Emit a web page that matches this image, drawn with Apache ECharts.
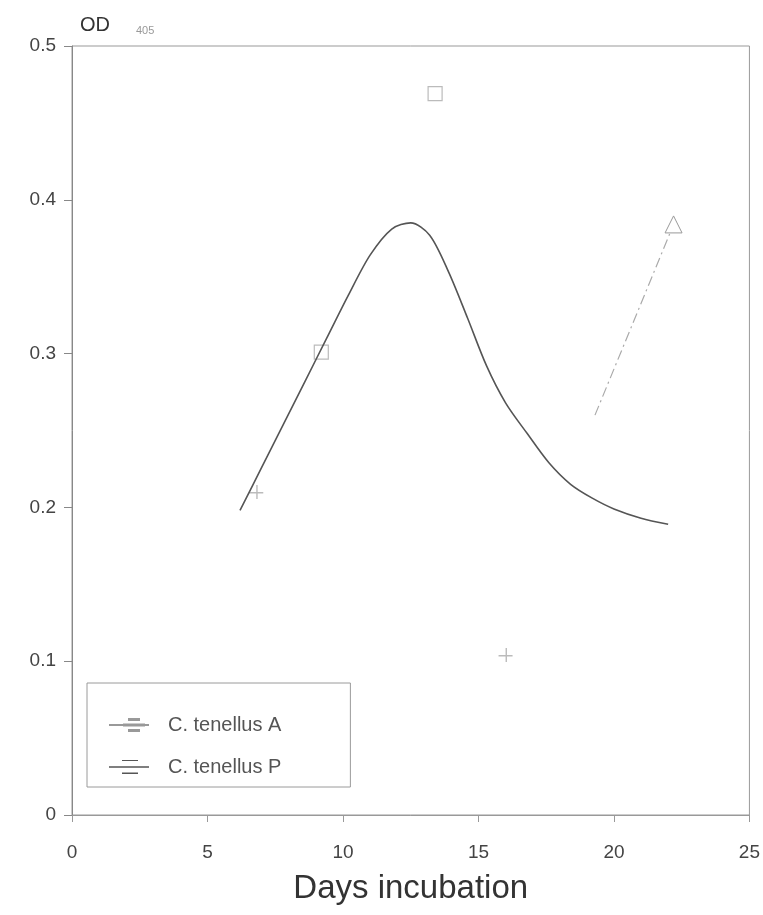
<!DOCTYPE html>
<html>
<head>
<meta charset="utf-8">
<script src="https://cdn.jsdelivr.net/npm/echarts@6/dist/echarts.min.js"></script>
<style>
  html, body { margin: 0; padding: 0; background: #fff; }
  #main { width: 763px; height: 915px; }
</style>
</head>
<body>
<div id="main"></div>
<script>
// fitted curve, C. tenellus P
const curveDays = [6.2, 7.0, 7.8, 8.6, 9.4, 10.2, 11.0, 11.8, 12.5, 13.2, 13.9, 14.6, 15.3, 16.0, 16.8, 17.6, 18.4, 19.2, 20.0, 21.0, 22.0];
const curveOD = [0.198, 0.226, 0.254, 0.282, 0.310, 0.338, 0.364, 0.381, 0.385, 0.377, 0.353, 0.323, 0.292, 0.268, 0.248, 0.229, 0.215, 0.206, 0.199, 0.193, 0.189];

// C. tenellus A (dashed)
const aDays = [19.3, 22.2];
const aOD = [0.26, 0.384];

const squareDays = [9.2, 13.4];
const squareOD = [0.301, 0.469];

const plusDays = [6.8, 16.0];
const plusOD = [0.21, 0.104];

const xTicks = [0, 5, 10, 15, 20, 25];
const yTicks = [0, 0.1, 0.2, 0.3, 0.4, 0.5];

const pairs = (xs, ys) => xs.map((x, i) => [x, ys[i]]);

var chartDom = document.getElementById("main");
var myChart = echarts.init(chartDom);

const font = "Liberation Sans, Arial, sans-serif";

var option = {
  animation: false,
  grid: {
    left: 72,
    right: 13,
    top: 46,
    bottom: 100,
    show: true,
    borderColor: "#999",
    borderWidth: 1,
  },
  legend: {
    orient: "vertical",
    left: 87,
    top: 683,
    padding: [32, 69, 10, 21],
    itemGap: 22,
    itemWidth: 40,
    itemHeight: 14,
    borderColor: "#9a9a9a",
    borderWidth: 1,
    textStyle: {
      fontFamily: font,
      fontSize: 20,
      color: "#555",
      padding: [0, 0, 0, 14],
    },
    data: [
      {
        name: "C. tenellus A",
        icon: "path://M0,7H40V7H0Z M15,6.5H35V7.5H15Z M20,1H30V2H20Z M20,12H30V13H20Z",
        itemStyle: { color: "#aaa" },
      },
      {
        name: "C. tenellus P",
        icon: "path://M0,6.3H40V7.7H0Z M13,0H29V1H13Z M13,12.5H29V14H13Z",
        itemStyle: { color: "#555" },
      },
    ],
  },
  xAxis: {
    type: "value",
    min: xTicks[0],
    max: xTicks[xTicks.length - 1],
    interval: 5,
    name: "Days incubation",
    nameLocation: "middle",
    nameGap: 57,
    nameTextStyle: { fontFamily: font, fontSize: 33, color: "#333" },
    axisLine: { lineStyle: { color: "#999" } },
    axisTick: { length: 7, lineStyle: { color: "#999" } },
    axisLabel: { fontFamily: font, fontSize: 19, color: "#444", margin: 28 },
    splitLine: { show: false },
  },
  yAxis: {
    type: "value",
    min: yTicks[0],
    max: yTicks[yTicks.length - 1],
    interval: 0.1,
    name: "{od|OD}{sub|405}",
    nameLocation: "end",
    nameGap: 10,
    nameTextStyle: {
      align: "left",
      padding: [0, 0, 0, 8],
      rich: {
        od: { fontFamily: font, fontSize: 20, color: "#333" },
        sub: { fontFamily: font, fontSize: 11, color: "#999", padding: [10, 0, 0, 26] },
      },
    },
    axisLine: { lineStyle: { color: "#888" } },
    axisTick: { length: 8, lineStyle: { color: "#888" } },
    axisLabel: { fontFamily: font, fontSize: 19, color: "#444", margin: 16 },
    splitLine: { show: false },
  },
  series: [
    {
      name: "C. tenellus P",
      type: "line",
      smooth: 0.3,
      showSymbol: false,
      lineStyle: { color: "#555", width: 1.6 },
      itemStyle: { color: "#555" },
      data: pairs(curveDays, curveOD),
    },
    {
      name: "C. tenellus A",
      type: "line",
      symbolSize: 17,
      showAllSymbol: true,
      lineStyle: { color: "#aaa", width: 1.2, type: [10, 4, 2, 4] },
      itemStyle: { color: "#fff", borderColor: "#999", borderWidth: 1 },
      data: pairs(aDays, aOD).map((p, i) => ({
        value: p,
        symbol: i === aDays.length - 1 ? "triangle" : "none",
      })),
    },
    {
      name: "squares",
      type: "scatter",
      symbol: "rect",
      symbolSize: 14,
      itemStyle: { color: "#fff", borderColor: "#aaa", borderWidth: 1.2 },
      data: pairs(squareDays, squareOD),
    },
    {
      name: "plus",
      type: "scatter",
      symbol: "path://M0,5H10V6H0Z M5,0H6V10H5Z",
      symbolSize: 14,
      itemStyle: { color: "#aaa" },
      data: pairs(plusDays, plusOD),
    },
  ],
};

option && myChart.setOption(option);
</script>
</body>
</html>
